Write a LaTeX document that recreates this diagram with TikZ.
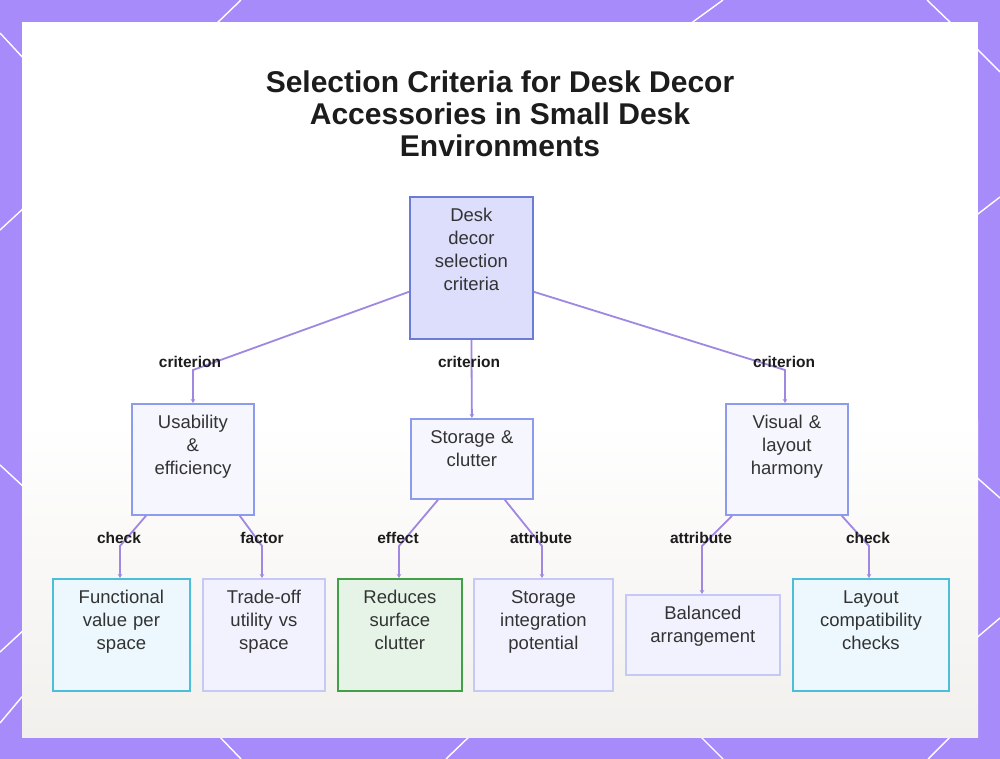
\documentclass[tikz,border=0pt]{standalone}
\usepackage{fontspec}
\setmainfont{Liberation Sans}
\usetikzlibrary{arrows.meta}
\definecolor{framepurple}{RGB}{167,139,250}
\definecolor{panelgray}{RGB}{242,240,237}
\definecolor{rootfill}{RGB}{220,222,251}
\definecolor{rootline}{RGB}{108,123,214}
\definecolor{midfill}{RGB}{246,247,254}
\definecolor{midline}{RGB}{140,155,235}
\definecolor{lavfill}{RGB}{241,242,253}
\definecolor{lavline}{RGB}{196,202,245}
\definecolor{cyanfill}{RGB}{236,248,253}
\definecolor{cyanline}{RGB}{77,190,216}
\definecolor{greenfill}{RGB}{230,244,232}
\definecolor{greenline}{RGB}{67,160,71}
\definecolor{edgepurple}{RGB}{160,135,225}
\definecolor{textgray}{RGB}{51,51,51}
\definecolor{labelblack}{RGB}{28,28,28}
\begin{document}
\begin{tikzpicture}[x=1pt, y=-1pt,
        every node/.style={font=\fontsize{18.5}{22.7}\selectfont, text=textgray},
        box/.style={rectangle, draw, line width=1.8pt, anchor=north west,
            align=center, inner sep=0pt, text height=25pt},
        rootbox/.style={box, draw=rootline, fill=rootfill},
        midbox/.style={box, draw=midline, fill=midfill},
        lavbox/.style={box, draw=lavline, fill=lavfill},
        cyanbox/.style={box, draw=cyanline, fill=cyanfill},
        greenbox/.style={box, draw=greenline, fill=greenfill},
        lbl/.style={font=\fontsize{15.5}{18}\selectfont\bfseries, text=labelblack},
        edge/.style={draw=edgepurple, line width=1.8pt, -{Stealth[length=4pt, width=4.5pt]}},
        frameline/.style={draw=white, line width=1.4pt}
      ]
      \useasboundingbox (0,0) rectangle (1000,759);
      \fill[framepurple] (0,0) rectangle (1000,759);
      \foreach \xa/\ya/\xb/\yb in {0/33/26/61, 0/230/26/206, 0/465/26/489, 0/652/26/628,
          0/723/26/692, 214/26/241/0, 690/24/723/0, 927/0/954/26, 974/46/1000/72,
          974/217/1000/197, 974/475/1000/498, 974/640/1000/618, 216/733/241/759,
          473/733/446/759, 697/733/723/759, 954/733/928/759}{
          \draw[frameline] (\xa,\ya) -- (\xb,\yb);
        }
      \fill[white] (22,22) rectangle (978,737);
      \shade[top color=white, bottom color=panelgray] (22,420) rectangle (978,737);

      \node[font=\fontsize{30}{32}\selectfont\bfseries, text=labelblack, align=center] (title) at (500,114)
      {Selection Criteria for Desk Decor\\Accessories in Small Desk\\Environments};

      \node[rootbox, text width=123pt, text depth=117pt] (root) at (409,196)
      {Desk\\decor\\selection\\criteria};

      \node[midbox, text width=122pt, text depth=86pt] (usab) at (131,403)
      {Usability\\\&\\efficiency};
      \node[midbox, text width=122pt, text depth=55pt] (storage) at (410,418)
      {Storage \&\\clutter};
      \node[midbox, text width=122pt, text depth=86pt] (visual) at (725,403)
      {Visual \&\\layout\\harmony};

      \node[cyanbox, text width=137pt, text depth=87pt] (funcval) at (52,578)
      {Functional\\value per\\space};
      \node[lavbox, text width=122pt, text depth=87pt] (tradeoff) at (202,578)
      {Trade-off\\utility vs\\space};
      \node[greenbox, text width=124pt, text depth=87pt] (reduces) at (337,578)
      {Reduces\\surface\\clutter};
      \node[lavbox, text width=139pt, text depth=87pt] (integ) at (473,578)
      {Storage\\integration\\potential};
      \node[lavbox, text width=154pt, text depth=55pt] (balanced) at (625,594)
      {Balanced\\arrangement};
      \node[cyanbox, text width=156pt, text depth=87pt] (layout) at (792,578)
      {Layout\\compatibility\\checks};

      \coordinate (bendusab) at (193,370);
      \coordinate (bendvisual) at (785,370);
      \draw[edge] ([yshift=48pt]root.south west) -- (bendusab) -- (bendusab |- usab.north);
      \draw[edge] (root.south) -- (storage.north);
      \draw[edge] ([yshift=48pt]root.south east) -- (bendvisual) -- (bendvisual |- visual.north);
      \node[lbl] (critusab) at (190,362) {criterion};
      \node[lbl] (critstorage) at (469,362) {criterion};
      \node[lbl] (critvisual) at (784,362) {criterion};

      \coordinate (bendfunc) at (120,546);
      \coordinate (bendtrade) at (262,546);
      \coordinate (bendreduce) at (399,546);
      \coordinate (bendinteg) at (542,546);
      \coordinate (bendbal) at (702,546);
      \coordinate (bendlayout) at (869,546);
      \draw[edge] ([xshift=15pt]usab.south west) -- (bendfunc) -- (bendfunc |- funcval.north);
      \draw[edge] ([xshift=-15pt]usab.south east) -- (bendtrade) -- (bendtrade |- tradeoff.north);
      \draw[edge] ([xshift=28pt]storage.south west) -- (bendreduce) -- (bendreduce |- reduces.north);
      \draw[edge] ([xshift=-29pt]storage.south east) -- (bendinteg) -- (bendinteg |- integ.north);
      \draw[edge] ([xshift=7pt]visual.south west) -- (bendbal) -- (bendbal |- balanced.north);
      \draw[edge] ([xshift=-7pt]visual.south east) -- (bendlayout) -- (bendlayout |- layout.north);
      \node[lbl] (checkfunc) at (119,538) {check};
      \node[lbl] (factortrade) at (262,538) {factor};
      \node[lbl] (effectreduce) at (398,538) {effect};
      \node[lbl] (attrinteg) at (541,538) {attribute};
      \node[lbl] (attrbal) at (701,538) {attribute};
      \node[lbl] (checklayout) at (868,538) {check};
    \end{tikzpicture}
\end{document}
